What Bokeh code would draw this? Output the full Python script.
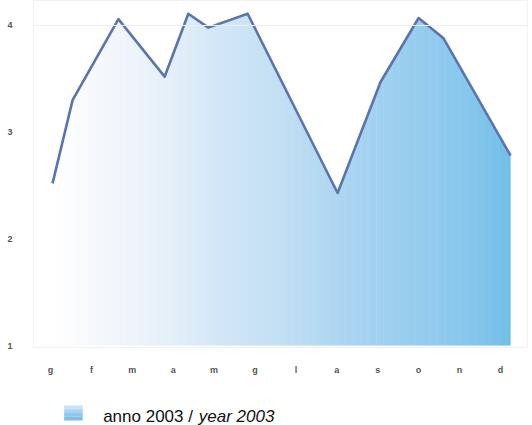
import numpy as np
from bokeh.plotting import figure
from bokeh.layouts import column
from bokeh.models import FixedTicker, Span, Range1d
from bokeh.core.properties import value
from bokeh.embed import file_html
from bokeh.resources import INLINE

# ---- data ----
months = ["g", "f", "m", "a", "m", "g", "l", "a", "s", "o", "n", "d"]
x_pos = [0.05, 0.54, 1.66, 2.79, 3.37, 3.86, 4.82, 7.02, 8.07, 9.00, 9.61, 11.25]
y_val = [2.52, 3.30, 4.06, 3.52, 4.11, 3.98, 4.11, 2.43, 3.47, 4.07, 3.88, 2.78]
y_ticks = [1, 2, 3, 4]
legend_label_a = "anno 2003 / "
legend_label_b = "year 2003"

# ---- styles ----
LINE_COLOR = "#5a74ae"
GRAD_STOPS_X = [0.05, 1.22, 2.93, 4.16, 5.62, 7.09, 8.80, 10.27, 11.25]
GRAD_STOPS_C = ["#ffffff", "#f5f8fc", "#e4eff9", "#d2e6f7", "#c2dff3",
                "#acd5f1", "#98cdef", "#86c6ec", "#70bee8"]
FONT = "Liberation Sans"


def hex2rgb(h):
    return [int(h[i:i + 2], 16) for i in (1, 3, 5)]


stop_rgb = np.array([hex2rgb(c) for c in GRAD_STOPS_C], dtype=float)


def grad_color(x):
    r = np.interp(x, GRAD_STOPS_X, stop_rgb[:, 0])
    g = np.interp(x, GRAD_STOPS_X, stop_rgb[:, 1])
    b = np.interp(x, GRAD_STOPS_X, stop_rgb[:, 2])
    return "#%02x%02x%02x" % (int(round(r)), int(round(g)), int(round(b)))


base = y_ticks[0]

p = figure(width=532, height=385, x_range=Range1d(-0.416, 11.663),
           y_range=Range1d(0.982, 4.234), output_backend="svg",
           toolbar_location=None, min_border_left=33, min_border_right=5,
           min_border_top=0, min_border_bottom=38)
p.background_fill_color = "white"
p.border_fill_color = "white"
p.outline_line_color = "#f2f2f2"
p.xgrid.grid_line_color = None
p.ygrid.grid_line_color = None

p.add_layout(Span(location=y_ticks[-1], dimension="width", line_color="#eeeeee", line_width=1))

# gradient fill built from vertical strips under the line
edges = np.unique(np.concatenate([np.linspace(x_pos[0], x_pos[-1], 260), x_pos]))
xs, ys, cols = [], [], []
eps = 0.012
for a, b in zip(edges[:-1], edges[1:]):
    b2 = min(b + eps, x_pos[-1])
    ya = np.interp(a, x_pos, y_val)
    yb = np.interp(b2, x_pos, y_val)
    xs.append([a, b2, b2, a])
    ys.append([base, base, yb, ya])
    cols.append(grad_color((a + b) / 2))
p.patches(xs, ys, fill_color=cols, line_color=None)

p.line(x_pos, y_val, line_color=LINE_COLOR, line_width=2.6, line_join="round")

# axes
p.xaxis.ticker = FixedTicker(ticks=list(range(len(months))))
p.xaxis.major_label_overrides = {i: m for i, m in enumerate(months)}
p.yaxis.ticker = FixedTicker(ticks=y_ticks)
for ax in (p.xaxis[0], p.yaxis[0]):
    ax.axis_line_color = None
    ax.major_tick_line_color = None
    ax.minor_tick_line_color = None
    ax.major_label_text_font = FONT
    ax.major_label_text_font_size = "9px"
    ax.major_label_text_font_style = "bold"
    ax.major_label_text_color = "#555555"
p.xaxis.major_label_standoff = 11
p.yaxis.major_label_standoff = 15

# legend strip
lg = figure(width=532, height=40, x_range=Range1d(0, 532), y_range=Range1d(0, 40),
            output_backend="svg", toolbar_location=None, min_border=0)
lg.axis.visible = False
lg.grid.visible = False
lg.outline_line_color = None
lg.background_fill_color = "white"
lg.border_fill_color = "white"
band_cols = ["#c8e3f6", "#a9d4f1", "#8fc8ec", "#7dbfe8"]
band_y = [18.1, 14.4, 10.6, 6.9]
lg.rect(x=[43] * 4, y=band_y, width=20, height=3.9, fill_color=band_cols, line_color=None)
lg.text(x=[75], y=[9], text=[legend_label_a], text_font=value(FONT),
        text_font_size="17px", text_color="#111111", text_baseline="alphabetic")
lg.text(x=[178], y=[9], text=[legend_label_b], text_font=value(FONT),
        text_font_size="17px", text_font_style="italic", text_color="#111111",
        text_baseline="alphabetic")

layout = column(p, lg, spacing=0)
open("out.html", "w").write(file_html(layout, INLINE))
